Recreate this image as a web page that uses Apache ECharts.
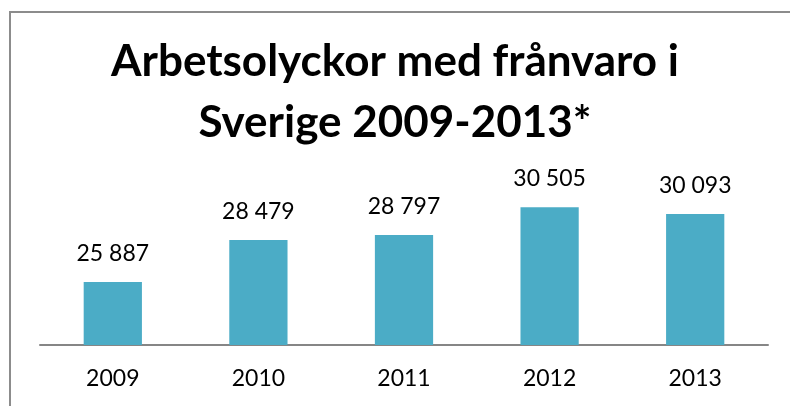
<!DOCTYPE html>
<html>
<head>
<meta charset="utf-8">
<script src="https://cdn.jsdelivr.net/npm/echarts@6/dist/echarts.min.js"></script>
<style>
  html, body { margin: 0; padding: 0; background: #fff; }
  #chart { width: 790px; height: 406px; }
</style>
</head>
<body>
<div id="chart"></div>
<script>
const years = ['2009', '2010', '2011', '2012', '2013'];
const olyckor = [25887, 28479, 28797, 30505, 30093];
const titleLines = ['Arbetsolyckor med frånvaro i', 'Sverige 2009-2013*'];
const yMin = 22000;
const yMax = 32000;

// 25887 -> "25 887"
const fmt = v => String(v).replace(/\B(?=(\d{3})+(?!\d))/g, ' ');

const titleStyle = {
  fontFamily: 'Lato',
  fontWeight: 'bold',
  fontSize: 44,
  lineHeight: 50,
  color: '#000'
};

const chart = echarts.init(document.getElementById('chart'));
chart.setOption({
  animation: false,
  textStyle: { fontFamily: 'Lato' },
  title: titleLines.map((t, i) => ({
    text: t,
    left: 'center',
    top: 37 + i * 61,
    padding: 0,
    textStyle: titleStyle
  })),
  graphic: [
    {
      type: 'rect',
      shape: { x: 10, y: 12, width: 800, height: 420 },
      style: { fill: 'none', stroke: '#8c8c8c', lineWidth: 2 }
    }
  ],
  grid: { left: 40, right: 22, top: 183, bottom: 61 },
  xAxis: {
    type: 'category',
    data: years,
    axisLine: { lineStyle: { color: '#868686', width: 2 } },
    axisTick: { show: false },
    axisLabel: { color: '#000', fontSize: 23, margin: 22 }
  },
  yAxis: {
    type: 'value',
    min: yMin,
    max: yMax,
    show: false,
    splitLine: { show: false }
  },
  series: [
    {
      type: 'bar',
      data: olyckor,
      barCategoryGap: '60%',
      itemStyle: { color: '#4BACC6' },
      label: {
        show: true,
        position: 'top',
        distance: 17,
        color: '#000',
        fontSize: 23,
        formatter: p => fmt(p.value)
      }
    }
  ]
});
</script>
</body>
</html>
